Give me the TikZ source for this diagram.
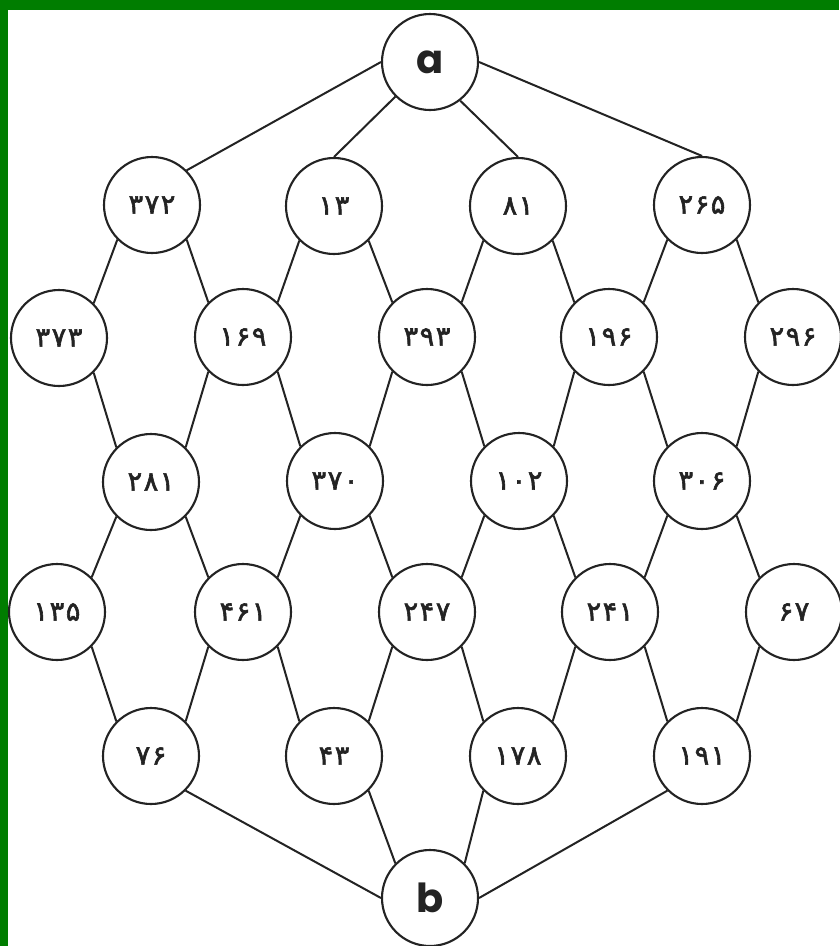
\documentclass[tikz,border=0pt]{standalone}
\usepackage{fontspec}
\newfontfamily\fa[Script=Arabic,FakeBold=2.2,LetterSpace=6]{DejaVu Sans}
\newfontfamily\lat{Poppins}
\definecolor{framegreen}{RGB}{0,125,0}
\definecolor{ink}{RGB}{35,35,35}
\begin{document}
\begin{tikzpicture}[x=1pt,y=-1pt,
  vtx/.style={circle, draw=ink, line width=2.1pt, minimum size=96pt, inner sep=0pt, fill=white, text=ink, font=\fa\fontsize{27}{27}\selectfont},
  endvtx/.style={vtx, font=\lat\bfseries\fontsize{40}{40}\selectfont},
  edge/.style={draw=ink, line width=2pt}]
\useasboundingbox (0,0) rectangle (839,946);
\fill[white] (0,0) rectangle (839,946);
\fill[framegreen] (0,0) rectangle (839,10);
\fill[framegreen] (0,0) rectangle (8,946);
% nodes
\node[endvtx] (a) at (430,62) {a};
\node[vtx] (n372) at (152,205) {۳۷۲};
\node[vtx] (n13)  at (334,206) {۱۳};
\node[vtx] (n81)  at (518,206) {۸۱};
\node[vtx] (n265) at (702,205) {۲۶۵};
\node[vtx] (n373) at (59,338) {۳۷۳};
\node[vtx] (n169) at (243,337) {۱۶۹};
\node[vtx] (n393) at (427,337) {۳۹۳};
\node[vtx] (n196) at (609,337) {۱۹۶};
\node[vtx] (n296) at (793,337) {۲۹۶};
\node[vtx] (n281) at (151,482) {۲۸۱};
\node[vtx] (n370) at (335,481) {۳۷۰};
\node[vtx] (n102) at (519,481) {۱۰۲};
\node[vtx] (n306) at (702,481) {۳۰۶};
\node[vtx] (n135) at (57,612) {۱۳۵};
\node[vtx] (n461) at (243,612) {۴۶۱};
\node[vtx] (n247) at (427,612) {۲۴۷};
\node[vtx] (n241) at (610,612) {۲۴۱};
\node[vtx] (n67)  at (794,612) {۶۷};
\node[vtx] (n76)  at (151,756) {۷۶};
\node[vtx] (n43)  at (334,756) {۴۳};
\node[vtx] (n178) at (518,756) {۱۷۸};
\node[vtx] (n191) at (702,756) {۱۹۱};
\node[endvtx] (b) at (430,898) {b};
% edges from a
\path[edge] (a.west) -- (n372.north east);
\path[edge] (a.south west) -- (n13.north);
\path[edge] (a.-52) -- (n81.north);
\path[edge] (a.east) -- (n265.north);
% row 1 -> row 2
\path[edge] (n372.south west) -- (n373.north east);
\path[edge] (n372.south east) -- (n169.north west);
\path[edge] (n13.south west) -- (n169.north east);
\path[edge] (n13.south east) -- (n393.north west);
\path[edge] (n81.south west) -- (n393.north east);
\path[edge] (n81.south east) -- (n196.north west);
\path[edge] (n265.south west) -- (n196.north east);
\path[edge] (n265.south east) -- (n296.north west);
% row 2 -> row 3
\path[edge] (n373.south east) -- (n281.north west);
\path[edge] (n169.south west) -- (n281.north east);
\path[edge] (n169.south east) -- (n370.north west);
\path[edge] (n393.south west) -- (n370.north east);
\path[edge] (n393.south east) -- (n102.north west);
\path[edge] (n196.south west) -- (n102.north east);
\path[edge] (n196.south east) -- (n306.north west);
\path[edge] (n296.south west) -- (n306.north east);
% row 3 -> row 4
\path[edge] (n281.south west) -- (n135.north east);
\path[edge] (n281.south east) -- (n461.north west);
\path[edge] (n370.south west) -- (n461.north east);
\path[edge] (n370.south east) -- (n247.north west);
\path[edge] (n102.south west) -- (n247.north east);
\path[edge] (n102.south east) -- (n241.north west);
\path[edge] (n306.south west) -- (n241.north east);
\path[edge] (n306.south east) -- (n67.north west);
% row 4 -> row 5
\path[edge] (n135.south east) -- (n76.north west);
\path[edge] (n461.south west) -- (n76.north east);
\path[edge] (n461.south east) -- (n43.north west);
\path[edge] (n247.south west) -- (n43.north east);
\path[edge] (n247.south east) -- (n178.north west);
\path[edge] (n241.south west) -- (n178.north east);
\path[edge] (n241.south east) -- (n191.north west);
\path[edge] (n67.south west) -- (n191.north east);
% row 5 -> b
\path[edge] (n76.south east) -- (b.west);
\path[edge] (n43.south east) -- (b.north west);
\path[edge] (n178.south west) -- (b.north east);
\path[edge] (n191.south west) -- (b.east);
\end{tikzpicture}
\end{document}
